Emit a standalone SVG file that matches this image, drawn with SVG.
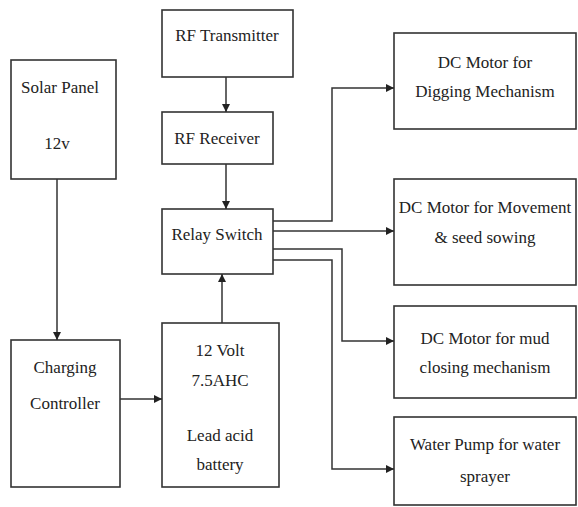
<svg xmlns="http://www.w3.org/2000/svg" width="578" height="507" viewBox="0 0 578 507">
<style>
.box{fill:#fff;stroke:#333;stroke-width:1.6}
.c{fill:none;stroke:#333;stroke-width:1.5}
</style>
<defs>
<marker id="ah" viewBox="0 0 10 10" refX="10" refY="5" markerWidth="8" markerHeight="8" markerUnits="userSpaceOnUse" orient="auto">
<path d="M0,0 L10,5 L0,10 Z" fill="#222"/>
</marker>
</defs>
<rect width="578" height="507" fill="#fff"/>
<g font-family="Liberation Serif" font-size="17" text-anchor="middle" fill="#222">
<g id="solar"><rect class="box" x="11" y="60" width="105" height="119"/><text x="60" y="93">Solar Panel</text><text x="57" y="149">12v</text></g>
<g id="rftx"><rect class="box" x="162" y="10" width="131" height="67"/><text x="227" y="41">RF Transmitter</text></g>
<g id="rfrx"><rect class="box" x="162" y="112" width="111" height="52"/><text x="217" y="144">RF Receiver</text></g>
<g id="relay"><rect class="box" x="162" y="209" width="111" height="65"/><text x="217" y="240">Relay Switch</text></g>
<g id="charger"><rect class="box" x="11" y="340" width="109" height="147"/><text x="65" y="373">Charging</text><text x="65" y="409">Controller</text></g>
<g id="battery"><rect class="box" x="162" y="323" width="117" height="164"/><text x="220" y="356">12 Volt</text><text x="220" y="386">7.5AHC</text><text x="220" y="441">Lead acid</text><text x="220" y="470">battery</text></g>
<g id="digging"><rect class="box" x="394" y="33" width="182" height="96"/><text x="485" y="68">DC Motor for</text><text x="485" y="97">Digging Mechanism</text></g>
<g id="movement"><rect class="box" x="394" y="179" width="182" height="106"/><text x="485" y="213">DC Motor for Movement</text><text x="485" y="243">&amp; seed sowing</text></g>
<g id="mud"><rect class="box" x="394" y="306" width="182" height="92"/><text x="485" y="344">DC Motor for mud</text><text x="485" y="373">closing mechanism</text></g>
<g id="pump"><rect class="box" x="394" y="417" width="182" height="88"/><text x="485" y="450">Water Pump for water</text><text x="485" y="482">sprayer</text></g>
</g>
<g id="connectors">
<line class="c" x1="226" y1="77" x2="226" y2="112" marker-end="url(#ah)"/>
<line class="c" x1="226" y1="164" x2="226" y2="209" marker-end="url(#ah)"/>
<line class="c" x1="57" y1="179" x2="57" y2="340" marker-end="url(#ah)"/>
<line class="c" x1="120" y1="399" x2="162" y2="399" marker-end="url(#ah)"/>
<line class="c" x1="222" y1="323" x2="222" y2="274" marker-end="url(#ah)"/>
<polyline class="c" points="273,221 332,221 332,88 394,88" marker-end="url(#ah)"/>
<polyline class="c" points="273,231 394,231" marker-end="url(#ah)"/>
<polyline class="c" points="273,249 342,249 342,341 394,341" marker-end="url(#ah)"/>
<polyline class="c" points="273,260 332,260 332,469 394,469" marker-end="url(#ah)"/>
</g>
</svg>
